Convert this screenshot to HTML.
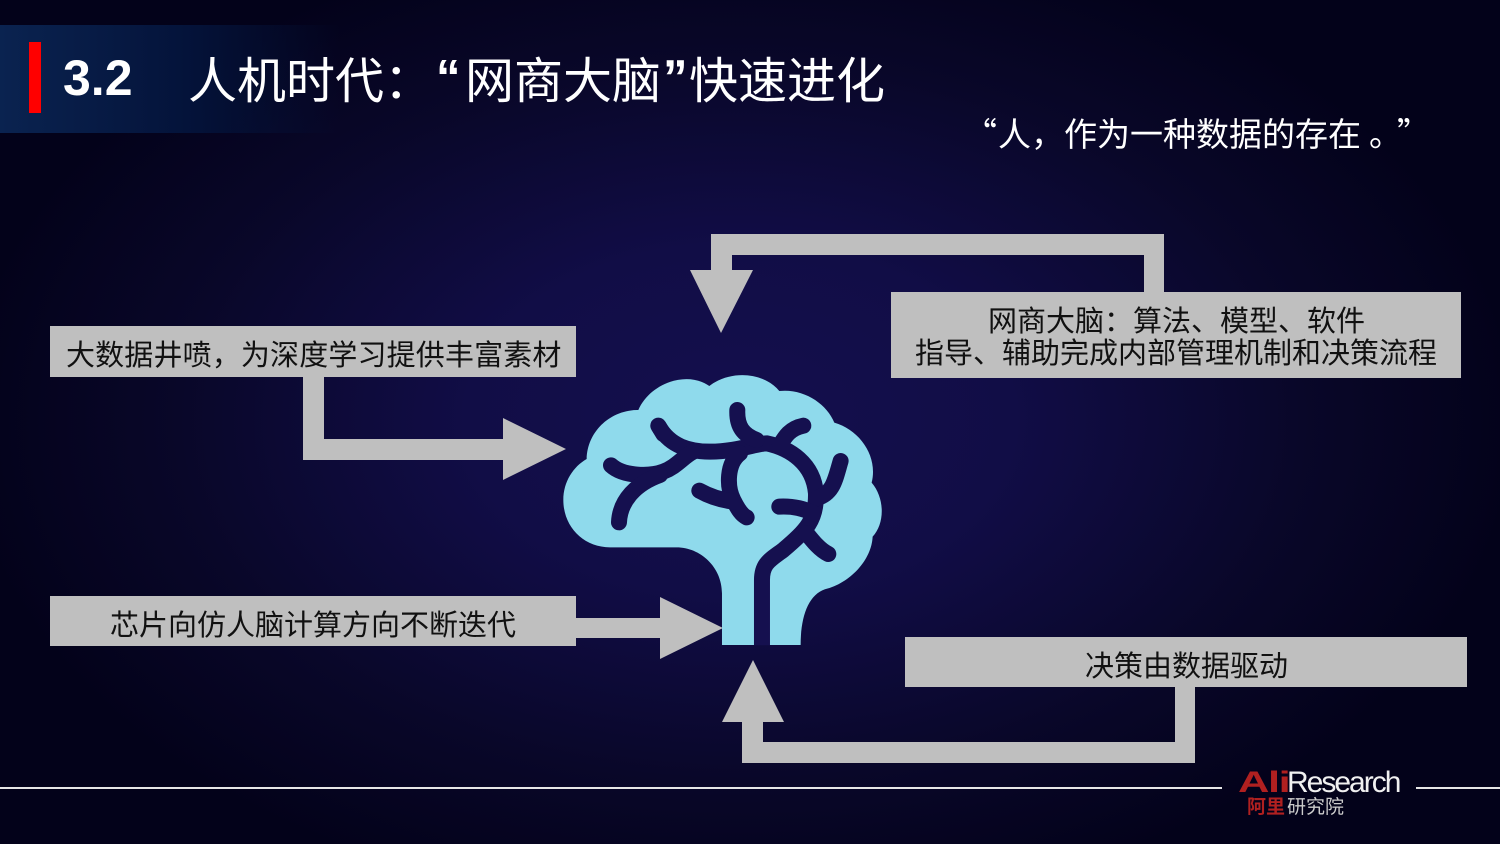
<!DOCTYPE html>
<html><head><meta charset="utf-8"><style>
html,body{margin:0;padding:0;background:#02021a}
#s{position:relative;width:1500px;height:844px;overflow:hidden;background:radial-gradient(ellipse 780px 500px at 740px 420px,#140f4e 0%,#110d46 35%,#090729 72%,#03021a 100%);font-family:"Liberation Sans","WenQuanYi Zen Hei","Noto Sans CJK SC",sans-serif}
.t{position:absolute;white-space:nowrap;line-height:1}
.c{font-family:'WenQuanYi Zen Hei','Noto Sans CJK SC',sans-serif}
.k{color:#fff;font-size:49px;top:53px}
.q{color:#fff;font-size:49px;font-weight:bold;top:54px}
.b{position:absolute;background:#bfbfbf}
.d{color:#111;font-size:29px}
.w{color:#fff;font-size:33px;top:116px}
</style></head><body><div id="s">
<div style="position:absolute;left:0;top:25px;width:340px;height:108px;background:linear-gradient(90deg,#0a2350,#04133a 55%,rgba(4,10,40,0))"></div>
<div style="position:absolute;left:29px;top:42px;width:12px;height:71px;background:#f00"></div>
<div class="t" style="left:63px;top:53px;font-size:50px;font-weight:bold;color:#fff">3.2</div>
<div class="t c k" style="left:188px">人机时代&#xFF1A;</div>
<div class="t q" style="left:436px">“</div>
<div class="t c k" style="left:465px">网商大脑</div>
<div class="t q" style="left:663px">”</div>
<div class="t c k" style="left:689px">快速进化</div>
<div class="t c w" style="left:964px">“</div>
<div class="t c w" style="left:998px">人&#xFF0C;作为一种数据的存在</div>
<div class="t c w" style="left:1369px">。</div>
<div class="t c w" style="left:1397px">”</div>

<svg width="1500" height="844" style="position:absolute;left:0;top:0">
<g fill="#bfbfbf">
<path d="M1144 292V255H732V270H753L721 333L690 270H711V234H1164V292Z"/>
<path d="M303 377H324V439H503V418L566 449L503 480V460H303Z"/>
<path d="M576 618H660V597L723 628L660 659V638H576Z"/>
<path d="M1175 687H1195V763H742V722H722L753 660L784 722H763V742H1175Z"/>
</g>
<g transform="translate(550,360) scale(.3333)">
<path fill="#8fdaec" d="M516 855V700C516 620 450 562 380 562H180C100 562 40 500 40 420C40 365 70 320 110 297C112 215 180 150 265 150C300 70 410 30 478 78C540 30 640 35 688 93C760 85 830 130 853 188C930 210 985 290 965 368C1005 415 1005 490 968 530C965 600 900 670 825 688C775 705 752 770 752 855H660V855H612V855Z"/>
<g fill="none" stroke="#15104f" stroke-width="48" stroke-linecap="round">
<path d="M325 197C360 260 420 275 480 275C560 275 620 250 650 250C720 265 790 310 798 400C800 480 770 510 700 570C660 600 636 610 636 660V856" stroke-linecap="butt"/>
<path d="M325 197L340 222"/>
<path d="M183 316C220 350 300 350 340 335C380 320 400 290 430 275"/>
<path d="M207 487C210 420 260 370 330 345"/>
<path d="M562 150C560 200 580 225 620 240"/>
<path d="M760 197C720 205 705 230 690 255"/>
<path d="M872 303C855 360 850 400 800 415"/>
<path d="M688 440C730 438 760 445 790 460"/>
<path d="M835 582C810 570 790 545 770 520"/>
<path d="M570 280C530 310 530 380 550 420C565 450 575 465 590 472"/>
<path d="M448 392C480 410 510 420 550 425"/>
</g>
</g>
</svg>

<div class="b" style="left:50px;top:326px;width:526px;height:51px"></div>
<div class="t c d" style="left:66px;top:339px;letter-spacing:.15px">大数据井喷&#xFF0C;为深度学习提供丰富素材</div>
<div class="b" style="left:891px;top:292px;width:570px;height:86px"></div>
<div class="t c d" style="left:988px;top:305px">网商大脑&#xFF1A;算法、模型、软件</div>
<div class="t c d" style="left:915px;top:337px">指导、辅助完成内部管理机制和决策流程</div>
<div class="b" style="left:50px;top:596px;width:526px;height:50px"></div>
<div class="t c d" style="left:110px;top:609px">芯片向仿人脑计算方向不断迭代</div>
<div class="b" style="left:905px;top:637px;width:562px;height:50px"></div>
<div class="t c d" style="left:1085px;top:650px">决策由数据驱动</div>

<div style="position:absolute;left:0;top:787px;width:1222px;height:2px;background:#e6e6e6"></div>
<div style="position:absolute;left:1416px;top:787px;width:84px;height:2px;background:#e6e6e6"></div>
<div class="t" style="left:1238px;top:768px;font-size:30px;font-weight:bold;letter-spacing:-1px;color:#b02020;transform:scaleX(1.45);transform-origin:0 0">Ali</div>
<div class="t" style="left:1287px;top:768px;font-size:30px;letter-spacing:-2px;color:#f0f0f0">Research</div>
<div class="t c" style="left:1247px;top:796px;font-size:19px;font-weight:bold;color:#b02020">阿里</div>
<div class="t c" style="left:1287px;top:796px;font-size:19px;color:#ccc">研究院</div>
</div></body></html>
